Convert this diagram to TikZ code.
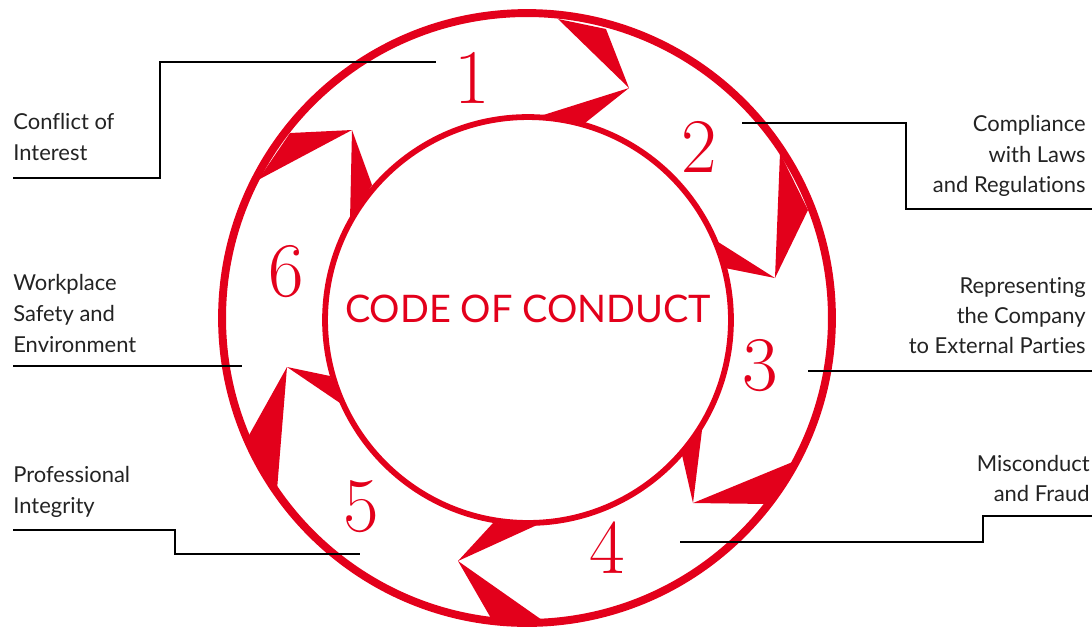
\documentclass[tikz,border=0pt]{standalone}
\usepackage{fontspec}
\setmainfont{Lato}[Ligatures=NoCommon]
\newfontfamily\numfont{Latin Modern Roman}
\definecolor{cocred}{RGB}{227,0,27}
\definecolor{txt}{RGB}{35,35,35}
\begin{document}
\begin{tikzpicture}[x=0.02cm,y=-0.02cm,
  wedge/.style={fill=cocred},
  leader/.style={draw=black,line width=1.1pt},
  lbl/.style={inner sep=0pt,text=txt,font=\fontsize{12.5}{15}\selectfont},
  lblL/.style={lbl,anchor=base west},
  lblR/.style={lbl,anchor=base east},
  num/.style={inner sep=0pt,text=cocred,font=\numfont\fontsize{44}{44}\selectfont,anchor=base},
]
\useasboundingbox (0,0) rectangle (1092,630);
% arrow wedges
\fill[wedge] (558,19) -- (629,88) -- (606,29) -- cycle;
\fill[wedge] (537,117) -- (629,88) -- (585,123) -- cycle;
\fill[wedge] (780,153) -- (775,278) -- (808,210) -- cycle;
\fill[wedge] (715,240) -- (775,278) -- (725,268) -- cycle;
\fill[wedge] (703,422) -- (693,503) -- (682,455) -- cycle;
\fill[wedge] (795,461) -- (693,503) -- (767,504) -- cycle;
\fill[wedge] (537,525) -- (458,561) -- (493,523) -- cycle;
\fill[wedge] (492,620) -- (458,561) -- (542,620) -- cycle;
\fill[wedge] (330,376) -- (287,367) -- (340,403) -- cycle;
\fill[wedge] (248,437) -- (287,367) -- (277,490) -- cycle;
\fill[wedge] (290,133) -- (352,130) -- (258,180) -- cycle;
\fill[wedge] (372,185) -- (352,130) -- (350,220) -- cycle;
% rings
\draw[cocred,line width=4.5pt] (527,318) circle[radius=6.1cm];
\draw[cocred,line width=3.3pt] (528,320) circle[radius=4.06cm];
% title
\node[inner sep=0pt,anchor=base,text=cocred,font=\fontsize{21.6}{22}\selectfont] (title) at (528,322) {CODE OF CONDUCT};
% numbers
\node[num] (n1) at (472,103) {1};
\node[num] (n2) at (699,172) {2};
\node[num] (n3) at (760,390) {3};
\node[num] (n4) at (607,573) {4};
\node[num] (n5) at (361,531) {5};
\node[num] (n6) at (286,296) {6};
% leaders
\draw[leader] (13,178) -- (160,178) -- (160,62) -- (436,62);
\draw[leader] (742,123) -- (906,123) -- (906,209) -- (1092,209);
\draw[leader] (808,371) -- (1092,371);
\draw[leader] (680,542) -- (983,542) -- (983,516) -- (1092,516);
\draw[leader] (13,366) -- (242,366);
\draw[leader] (13,530) -- (175,530) -- (175,554) -- (360,554);
% labels
\node[lblL] (a1) at (13,129.5) {Conflict of};
\node[lblL] (a2) at (13,160) {Interest};
\node[lblR] (b1) at (1086,131.5) {Compliance};
\node[lblR] (b2) at (1086,162) {with Laws};
\node[lblR] (b3) at (1086,192.5) {and Regulations};
\node[lblR] (c1) at (1086,293.5) {Representing};
\node[lblR] (c2) at (1086,323.5) {the Company};
\node[lblR] (c3) at (1086,353.5) {to External Parties};
\node[lblR] (d1) at (1090,471) {Misconduct};
\node[lblR] (d2) at (1090,501) {and Fraud};
\node[lblL] (e1) at (13,290) {Workplace};
\node[lblL] (e2) at (13,321) {Safety and};
\node[lblL] (e3) at (13,352) {Environment};
\node[lblL] (f1) at (13,482.5) {Professional};
\node[lblL] (f2) at (13,513.5) {Integrity};
\end{tikzpicture}
\end{document}
